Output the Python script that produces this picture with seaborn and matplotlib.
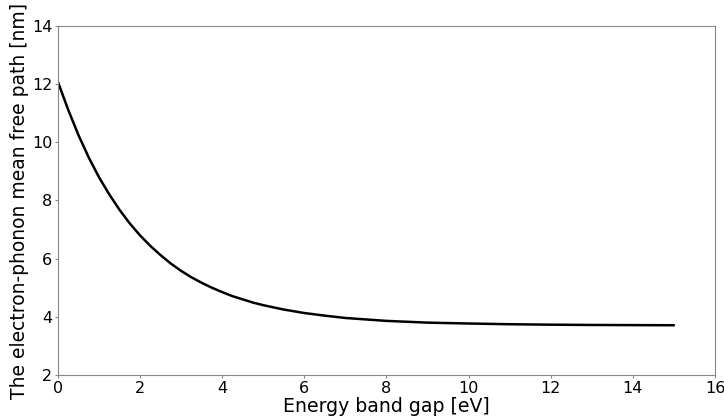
import matplotlib
matplotlib.use("Agg")
import matplotlib.pyplot as plt
import seaborn as sns
import pandas as pd

energy_gap = [0, 0.25, 0.5, 0.75, 1, 1.25, 1.5, 1.75, 2, 2.25, 2.5, 2.75, 3, 3.25, 3.5, 3.75, 4, 4.25,
              4.5, 4.75, 5, 5.5, 6, 6.5, 7, 7.5, 8, 8.5, 9, 10, 11, 12, 13, 14, 15]
mean_free_path = [12.08, 11.12, 10.25, 9.48, 8.80, 8.21, 7.68, 7.21, 6.80, 6.44, 6.12, 5.83, 5.58, 5.36,
                  5.17, 5.00, 4.85, 4.71, 4.60, 4.49, 4.40, 4.25, 4.13, 4.04, 3.96, 3.91, 3.86, 3.83,
                  3.80, 3.77, 3.745, 3.73, 3.72, 3.715, 3.71]

df = pd.DataFrame({"gap": energy_gap, "mfp": mean_free_path})

sns.set_style("white")
plt.rcParams["font.family"] = ["DejaVu Sans"]
plt.rcParams["axes.edgecolor"] = "#888888"

fig = plt.figure(figsize=(7.24, 4.16), dpi=100)
ax = fig.add_axes([0.080, 0.0986, 0.9076, 0.8389])
sns.lineplot(data=df, x="gap", y="mfp", ax=ax, color="black", linewidth=1.8)

ax.set_xlim(0, 16)
ax.set_ylim(2, 14)
ax.set_xticks(range(0, 17, 2))
ax.set_yticks(range(2, 15, 2))
ax.tick_params(axis="both", which="both", labelsize=11.5, length=2, width=0.8, pad=2,
               color="#888888", labelcolor="black", bottom=True, left=True, direction="out")
ax.set_xlabel("Energy band gap [eV]", fontsize=13.6, labelpad=1, color="black")
ax.set_ylabel("The electron-phonon mean free path [nm]", fontsize=13.5, labelpad=2, color="black")
for s in ax.spines.values():
    s.set_linewidth(0.8)

fig.savefig("out.png", dpi=100)
